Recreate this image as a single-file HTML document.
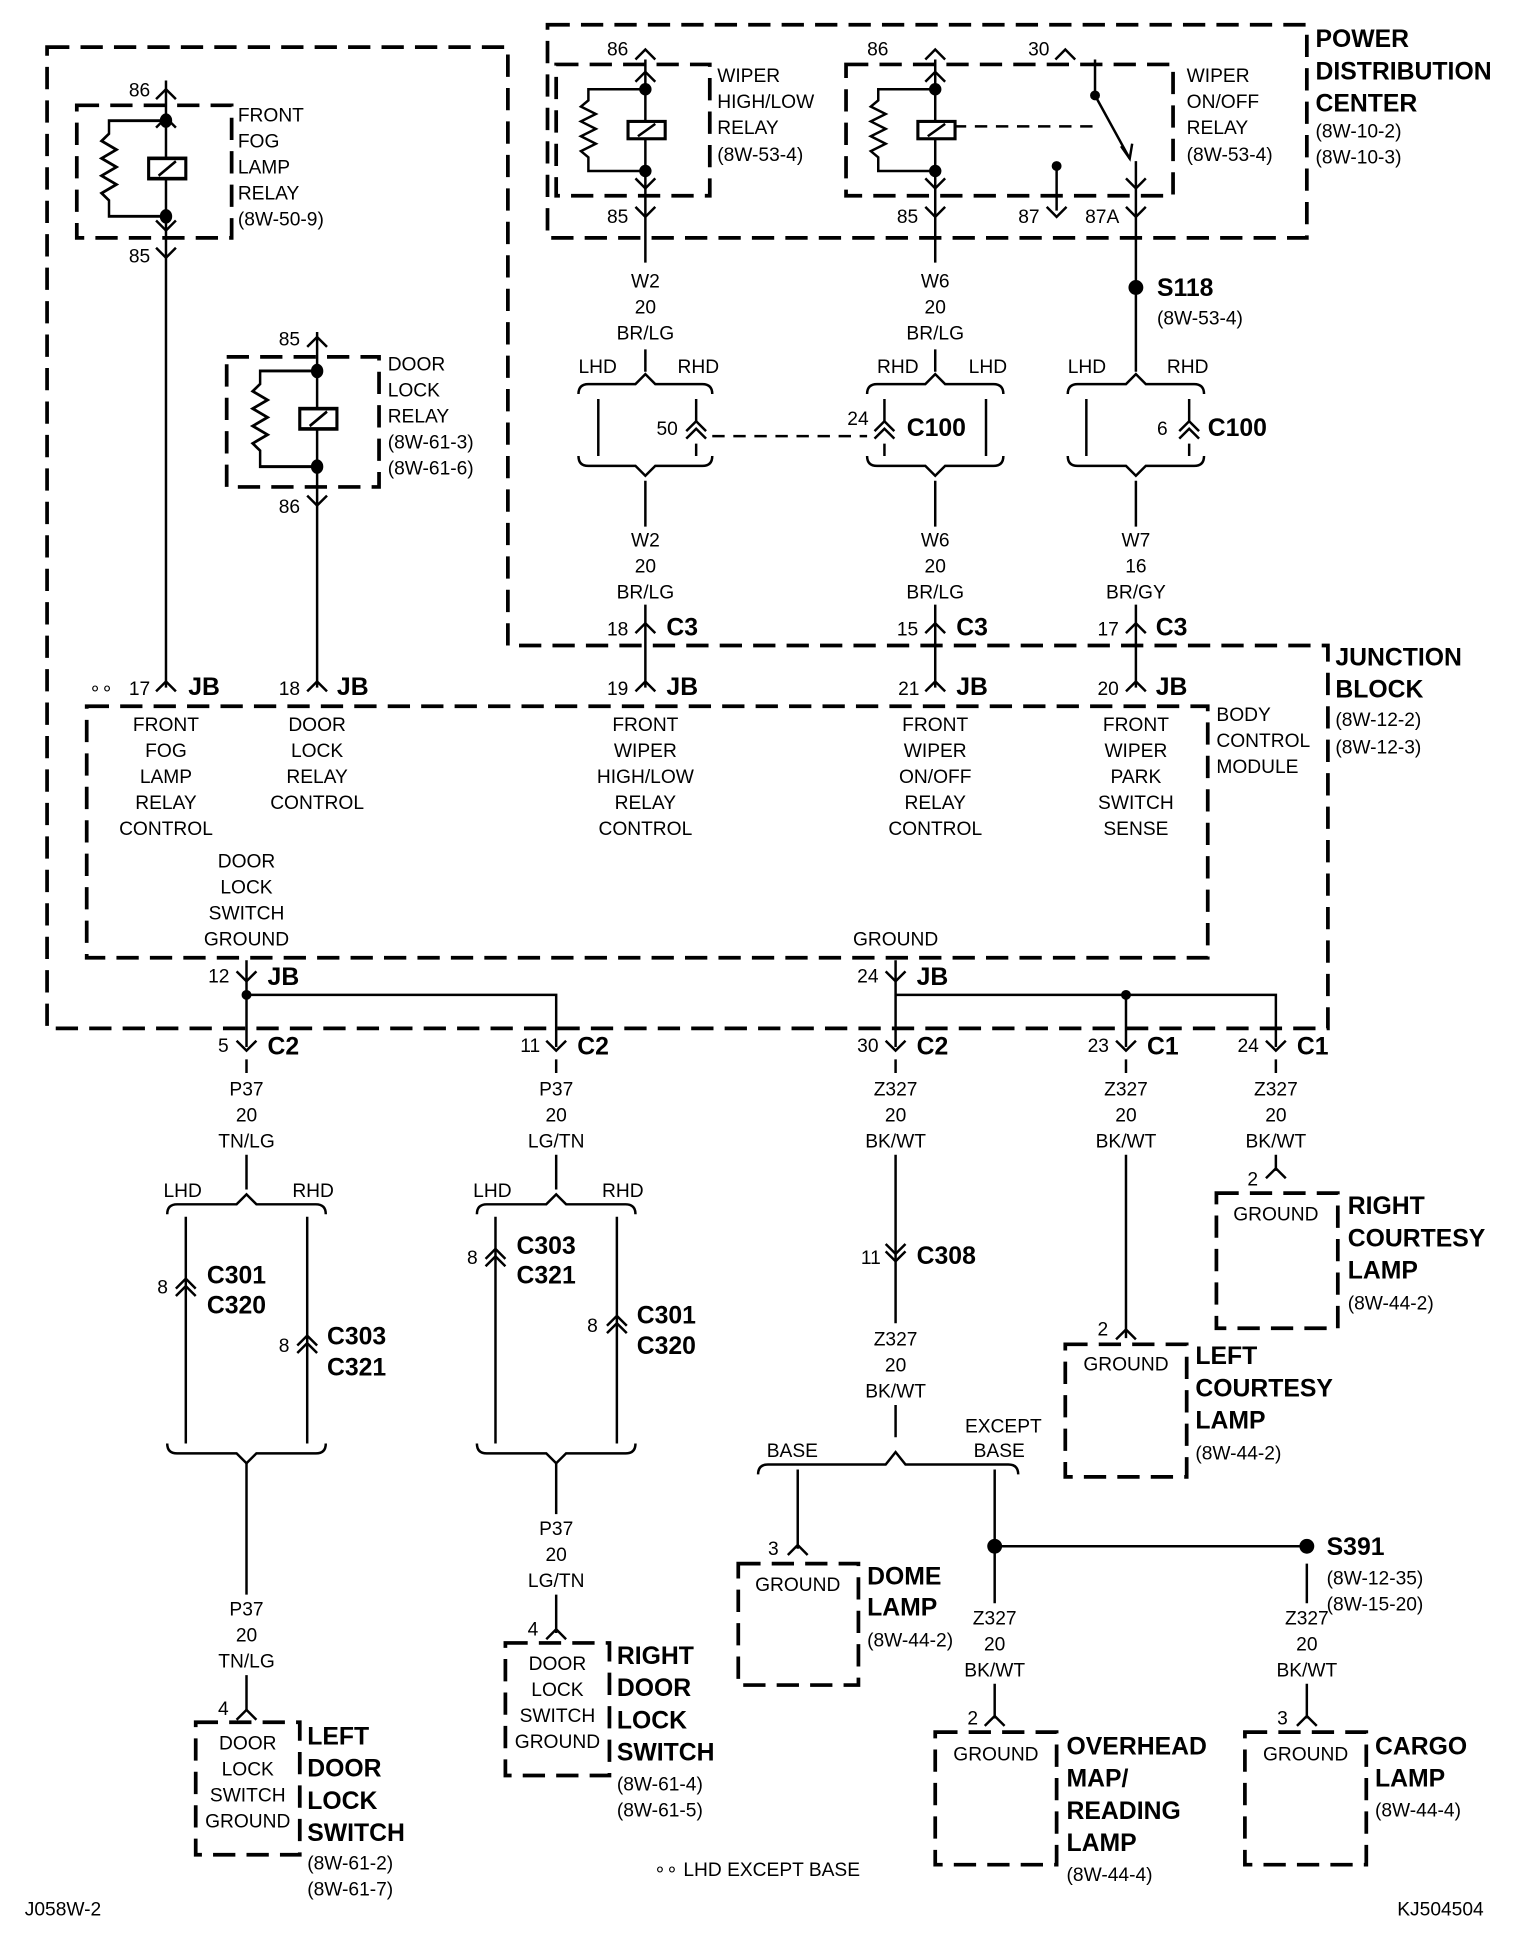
<!DOCTYPE html>
<html><head><meta charset="utf-8"><style>
html,body{margin:0;padding:0;background:#fff}
svg{display:block}
text{font-family:"Liberation Sans Narrow","Liberation Sans",sans-serif;font-size:15.5px;fill:#000}
.b{font-weight:bold;font-size:20px}
.c{text-anchor:middle}
</style></head><body>
<svg width="1536" height="1944" viewBox="0 0 1240 1569" preserveAspectRatio="none" xmlns="http://www.w3.org/2000/svg">
<defs>
<path id="v" d="M-8,-8 L0,0 L8,-8" fill="none" stroke="#000" stroke-width="2"/>
<path id="a" d="M-8,8 L0,0 L8,8" fill="none" stroke="#000" stroke-width="2"/>
<g id="aa"><path d="M-8,8 L0,0 L8,8 M-8,14 L0,6 L8,14" fill="none" stroke="#000" stroke-width="2"/></g>
<g id="vv"><path d="M-8,-8 L0,0 L8,-8 M-8,-2 L0,6 L8,-2" fill="none" stroke="#000" stroke-width="2"/></g>
<g id="relay" fill="none" stroke="#000" stroke-width="2">
<path d="M0,-33 L-46,-33 L-46,-24 L-52,-19 L-40,-13 L-52,-7 L-40,-1 L-52,5 L-40,11 L-52,17 L-46,22 L-46,33 L0,33 M0,-33 V33"/>
<rect x="-14" y="-7" width="30" height="14" fill="#fff" stroke-width="2.5"/>
<path d="M-6,5 L8,-5"/>
<circle cx="0" cy="-33" r="4" fill="#000"/><circle cx="0" cy="33" r="4" fill="#000"/>
</g>
</defs>
<g fill="none" stroke="#000" stroke-width="3" stroke-dasharray="18,9">
<rect x="442" y="20" width="613" height="172"/>
<path d="M38,38 L410,38 L410,521 L1072,521 L1072,830 L38,830 Z"/>
<rect x="70" y="570" width="905" height="203"/>
<rect x="62" y="85" width="125" height="107"/>
<rect x="183" y="288" width="123" height="105"/>
<rect x="449" y="52" width="124" height="106"/>
<rect x="683" y="52" width="264" height="106"/>
<rect x="158" y="1390" width="84" height="107"/>
<rect x="408" y="1326" width="84" height="107"/>
<rect x="596" y="1262" width="97" height="98"/>
<rect x="755" y="1398" width="98" height="107"/>
<rect x="1005" y="1398" width="98" height="107"/>
<rect x="860" y="1085" width="98" height="107"/>
<rect x="982" y="963" width="98" height="109"/>
</g>
<g fill="none" stroke="#000" stroke-width="2">
<path d="M134,65 V95 M134,178 V555 M256,268 V300 M256,377 V555"/>
<path d="M521,48 V72 M521,138 V212 M521,282 V300 M755,48 V72 M755,138 V212 M755,282 V300 M917,130 V300"/>
<path d="M521,388 V425 M521,488 V555 M755,388 V425 M755,488 V555 M917,388 V425 M917,488 V555"/>
<path d="M884,48 V77 L912,128 M853,134 V170"/>
<path d="M199,775 V845 M199,803 H449 V845 M723,775 V845 M723,803 H1030 V845 M909,803 V845"/>
<path d="M199,855 V866 M199,932 V960 M449,855 V866 M449,932 V960 M723,855 V866 M723,932 V1068 M723,1134 V1160 M909,855 V866 M909,932 V1080 M1030,855 V866 M1030,932 V945"/>
<path d="M467,318 Q467,310 475,310 L513,310 L521,302 L529,310 L567,310 Q575,310 575,318"/>
<path d="M467,368 Q467,376 475,376 L513,376 L521,384 L529,376 L567,376 Q575,376 575,368"/>
<path d="M483,322 V368 M562,322 V340 M562,358 V368"/>
<path d="M700,318 Q700,310 708,310 L747,310 L755,302 L763,310 L802,310 Q810,310 810,318"/>
<path d="M700,368 Q700,376 708,376 L747,376 L755,384 L763,376 L802,376 Q810,376 810,368"/>
<path d="M714,322 V340 M714,358 V368 M796,322 V368"/>
<path d="M862,318 Q862,310 870,310 L909,310 L917,302 L925,310 L964,310 Q972,310 972,318"/>
<path d="M862,368 Q862,376 870,376 L909,376 L917,384 L925,376 L964,376 Q972,376 972,368"/>
<path d="M877,322 V368 M960,322 V340 M960,358 V368"/>
<path d="M135,980 Q135,972 143,972 L191,972 L199,964 L207,972 L255,972 Q263,972 263,980"/>
<path d="M150,982 V1165 M248,982 V1165"/>
<path d="M135,1165 Q135,1173 143,1173 L191,1173 L199,1181 L207,1173 L255,1173 Q263,1173 263,1165"/>
<path d="M199,1181 V1287 M199,1352 V1380"/>
<path d="M385,980 Q385,972 393,972 L441,972 L449,964 L457,972 L505,972 Q513,972 513,980"/>
<path d="M400,982 V1165 M498,982 V1165"/>
<path d="M385,1165 Q385,1173 393,1173 L441,1173 L449,1181 L457,1173 L505,1173 Q513,1173 513,1165"/>
<path d="M449,1181 V1222 M449,1287 V1318"/>
<path d="M612,1190 Q612,1182 620,1182 L715,1182 L723,1172 L731,1182 L814,1182 Q822,1182 822,1190"/>
<path d="M644,1186 V1250 M803,1186 V1294 M803,1359 V1387 M803,1248 H1055 M1055,1262 V1294 M1055,1359 V1387"/>
</g>
<path d="M575,352 H700" stroke="#000" stroke-width="2" stroke-dasharray="10,7"/>
<path d="M770,102 H884" stroke="#000" stroke-width="2" stroke-dasharray="10,7"/>
<use href="#relay" transform="translate(134,136) scale(1,1.17)"/>
<use href="#relay" transform="translate(256,338) scale(1,1.17)"/>
<use href="#relay" x="521" y="105"/>
<use href="#relay" x="755" y="105"/>
<g fill="#000">
<circle cx="884" cy="77" r="4"/><circle cx="853" cy="134" r="4"/>
<circle cx="917" cy="232" r="6"/><circle cx="199" cy="803" r="4"/><circle cx="909" cy="803" r="4"/>
<circle cx="803" cy="1248" r="6"/><circle cx="1055" cy="1248" r="6"/>
</g>
<path d="M905,118 L912,128 L914,116" fill="none" stroke="#000" stroke-width="2"/>
<use href="#a" x="521" y="40"/><use href="#a" x="755" y="40"/><use href="#a" x="860" y="40"/>
<use href="#a" x="521" y="58"/><use href="#a" x="755" y="58"/>
<use href="#v" x="521" y="152"/><use href="#v" x="755" y="152"/>
<use href="#v" x="521" y="175"/><use href="#v" x="755" y="175"/><use href="#v" x="853" y="175"/><use href="#v" x="917" y="175"/>
<use href="#v" x="917" y="152"/>
<use href="#a" x="134" y="72"/><use href="#v" x="134" y="208"/><use href="#v" x="134" y="186"/><use href="#a" x="134" y="95"/>
<use href="#a" x="256" y="272"/><use href="#v" x="256" y="408"/>
<use href="#aa" x="562" y="340"/><use href="#aa" x="714" y="340"/><use href="#aa" x="960" y="340"/>
<use href="#a" x="521" y="503"/><use href="#a" x="755" y="503"/><use href="#a" x="917" y="503"/>
<use href="#a" x="134" y="550"/><use href="#a" x="256" y="550"/><use href="#a" x="521" y="550"/><use href="#a" x="755" y="550"/><use href="#a" x="917" y="550"/>
<use href="#v" x="199" y="792"/><use href="#v" x="723" y="792"/>
<use href="#v" x="199" y="848"/><use href="#v" x="449" y="848"/><use href="#v" x="723" y="848"/><use href="#v" x="909" y="848"/><use href="#v" x="1030" y="848"/>
<use href="#aa" x="150" y="1032"/><use href="#aa" x="248" y="1078"/><use href="#aa" x="400" y="1008"/><use href="#aa" x="498" y="1062"/>
<use href="#vv" x="723" y="1012"/>
<use href="#a" x="199" y="1380"/><use href="#a" x="449" y="1315"/><use href="#a" x="644" y="1247"/><use href="#a" x="803" y="1385"/><use href="#a" x="1055" y="1385"/><use href="#a" x="909" y="1073"/><use href="#a" x="1030" y="943"/>
<text x="490" y="45">86</text><text x="700" y="45">86</text><text x="830" y="45">30</text>
<text x="490" y="180">85</text><text x="724" y="180">85</text><text x="822" y="180">87</text><text x="876" y="180">87A</text>
<text x="579" y="66">WIPER</text><text x="579" y="87">HIGH/LOW</text><text x="579" y="108">RELAY</text><text x="579" y="130">(8W-53-4)</text>
<text x="958" y="66">WIPER</text><text x="958" y="87">ON/OFF</text><text x="958" y="108">RELAY</text><text x="958" y="130">(8W-53-4)</text>
<text class="b" x="1062" y="38">POWER</text><text class="b" x="1062" y="64">DISTRIBUTION</text><text class="b" x="1062" y="90">CENTER</text>
<text x="1062" y="111">(8W-10-2)</text><text x="1062" y="132">(8W-10-3)</text>
<text x="104" y="78">86</text><text x="104" y="212">85</text>
<text x="192" y="98">FRONT</text><text x="192" y="119">FOG</text><text x="192" y="140">LAMP</text><text x="192" y="161">RELAY</text><text x="192" y="182">(8W-50-9)</text>
<text x="225" y="279">85</text><text x="225" y="414">86</text>
<text x="313" y="299">DOOR</text><text x="313" y="320">LOCK</text><text x="313" y="341">RELAY</text><text x="313" y="362">(8W-61-3)</text><text x="313" y="383">(8W-61-6)</text>
<text x="521" y="232" class="c">W2</text><text x="521" y="253" class="c">20</text><text x="521" y="274" class="c">BR/LG</text>
<text x="755" y="232" class="c">W6</text><text x="755" y="253" class="c">20</text><text x="755" y="274" class="c">BR/LG</text>
<text x="521" y="441" class="c">W2</text><text x="521" y="462" class="c">20</text><text x="521" y="483" class="c">BR/LG</text>
<text x="755" y="441" class="c">W6</text><text x="755" y="462" class="c">20</text><text x="755" y="483" class="c">BR/LG</text>
<text x="917" y="441" class="c">W7</text><text x="917" y="462" class="c">16</text><text x="917" y="483" class="c">BR/GY</text>
<text class="b" x="934" y="239">S118</text><text x="934" y="262">(8W-53-4)</text>
<text x="467" y="301">LHD</text><text x="547" y="301">RHD</text><text x="708" y="301">RHD</text><text x="782" y="301">LHD</text><text x="862" y="301">LHD</text><text x="942" y="301">RHD</text>
<text x="530" y="351">50</text><text x="684" y="343">24</text><text class="b" x="732" y="352">C100</text><text x="934" y="351">6</text><text class="b" x="975" y="352">C100</text>
<text x="490" y="513">18</text><text class="b" x="538" y="513">C3</text><text x="724" y="513">15</text><text class="b" x="772" y="513">C3</text><text x="886" y="513">17</text><text class="b" x="933" y="513">C3</text>
<text x="72" y="561">∘∘</text><text x="104" y="561">17</text><text class="b" x="152" y="561">JB</text>
<text x="225" y="561">18</text><text class="b" x="272" y="561">JB</text>
<text x="490" y="561">19</text><text class="b" x="538" y="561">JB</text>
<text x="725" y="561">21</text><text class="b" x="772" y="561">JB</text>
<text x="886" y="561">20</text><text class="b" x="933" y="561">JB</text>
<text class="b" x="1078" y="537">JUNCTION</text><text class="b" x="1078" y="563">BLOCK</text>
<text x="1078" y="586">(8W-12-2)</text><text x="1078" y="608">(8W-12-3)</text>
<text x="982" y="582">BODY</text><text x="982" y="603">CONTROL</text><text x="982" y="624">MODULE</text>
<text class="c" x="134" y="590">FRONT</text><text class="c" x="134" y="611">FOG</text><text class="c" x="134" y="632">LAMP</text><text class="c" x="134" y="653">RELAY</text><text class="c" x="134" y="674">CONTROL</text>
<text class="c" x="256" y="590">DOOR</text><text class="c" x="256" y="611">LOCK</text><text class="c" x="256" y="632">RELAY</text><text class="c" x="256" y="653">CONTROL</text>
<text class="c" x="521" y="590">FRONT</text><text class="c" x="521" y="611">WIPER</text><text class="c" x="521" y="632">HIGH/LOW</text><text class="c" x="521" y="653">RELAY</text><text class="c" x="521" y="674">CONTROL</text>
<text class="c" x="755" y="590">FRONT</text><text class="c" x="755" y="611">WIPER</text><text class="c" x="755" y="632">ON/OFF</text><text class="c" x="755" y="653">RELAY</text><text class="c" x="755" y="674">CONTROL</text>
<text class="c" x="917" y="590">FRONT</text><text class="c" x="917" y="611">WIPER</text><text class="c" x="917" y="632">PARK</text><text class="c" x="917" y="653">SWITCH</text><text class="c" x="917" y="674">SENSE</text>
<text class="c" x="199" y="700">DOOR</text><text class="c" x="199" y="721">LOCK</text><text class="c" x="199" y="742">SWITCH</text><text class="c" x="199" y="763">GROUND</text>
<text class="c" x="723" y="763">GROUND</text>
<text x="168" y="793">12</text><text class="b" x="216" y="795">JB</text><text x="692" y="793">24</text><text class="b" x="740" y="795">JB</text>
<text x="176" y="849">5</text><text class="b" x="216" y="851">C2</text>
<text x="420" y="849">11</text><text class="b" x="466" y="851">C2</text>
<text x="692" y="849">30</text><text class="b" x="740" y="851">C2</text>
<text x="878" y="849">23</text><text class="b" x="926" y="851">C1</text>
<text x="999" y="849">24</text><text class="b" x="1047" y="851">C1</text>
<text class="c" x="199" y="884">P37</text><text class="c" x="199" y="905">20</text><text class="c" x="199" y="926">TN/LG</text>
<text class="c" x="449" y="884">P37</text><text class="c" x="449" y="905">20</text><text class="c" x="449" y="926">LG/TN</text>
<text class="c" x="723" y="884">Z327</text><text class="c" x="723" y="905">20</text><text class="c" x="723" y="926">BK/WT</text>
<text class="c" x="909" y="884">Z327</text><text class="c" x="909" y="905">20</text><text class="c" x="909" y="926">BK/WT</text>
<text class="c" x="1030" y="884">Z327</text><text class="c" x="1030" y="905">20</text><text class="c" x="1030" y="926">BK/WT</text>
<text x="132" y="966">LHD</text><text x="236" y="966">RHD</text><text x="382" y="966">LHD</text><text x="486" y="966">RHD</text>
<text x="127" y="1044">8</text><text class="b" x="167" y="1036">C301</text><text class="b" x="167" y="1060">C320</text>
<text x="225" y="1091">8</text><text class="b" x="264" y="1085">C303</text><text class="b" x="264" y="1110">C321</text>
<text x="377" y="1020">8</text><text class="b" x="417" y="1012">C303</text><text class="b" x="417" y="1036">C321</text>
<text x="474" y="1075">8</text><text class="b" x="514" y="1068">C301</text><text class="b" x="514" y="1093">C320</text>
<text x="695" y="1020">11</text><text class="b" x="740" y="1020">C308</text>
<text class="c" x="723" y="1086">Z327</text><text class="c" x="723" y="1107">20</text><text class="c" x="723" y="1128">BK/WT</text>
<text x="619" y="1176">BASE</text><text x="779" y="1156">EXCEPT</text><text x="786" y="1176">BASE</text>
<text class="c" x="199" y="1304">P37</text><text class="c" x="199" y="1325">20</text><text class="c" x="199" y="1346">TN/LG</text>
<text class="c" x="449" y="1239">P37</text><text class="c" x="449" y="1260">20</text><text class="c" x="449" y="1281">LG/TN</text>
<text x="176" y="1384">4</text><text x="426" y="1320">4</text>
<text class="c" x="200" y="1412">DOOR</text><text class="c" x="200" y="1433">LOCK</text><text class="c" x="200" y="1454">SWITCH</text><text class="c" x="200" y="1475">GROUND</text>
<text class="b" x="248" y="1408">LEFT</text><text class="b" x="248" y="1434">DOOR</text><text class="b" x="248" y="1460">LOCK</text><text class="b" x="248" y="1486">SWITCH</text>
<text x="248" y="1509">(8W-61-2)</text><text x="248" y="1530">(8W-61-7)</text>
<text class="c" x="450" y="1348">DOOR</text><text class="c" x="450" y="1369">LOCK</text><text class="c" x="450" y="1390">SWITCH</text><text class="c" x="450" y="1411">GROUND</text>
<text class="b" x="498" y="1343">RIGHT</text><text class="b" x="498" y="1369">DOOR</text><text class="b" x="498" y="1395">LOCK</text><text class="b" x="498" y="1421">SWITCH</text>
<text x="498" y="1445">(8W-61-4)</text><text x="498" y="1466">(8W-61-5)</text>
<text x="620" y="1255">3</text><text class="c" x="644" y="1284">GROUND</text>
<text class="b" x="700" y="1279">DOME</text><text class="b" x="700" y="1304">LAMP</text><text x="700" y="1329">(8W-44-2)</text>
<text class="b" x="1071" y="1255">S391</text><text x="1071" y="1279">(8W-12-35)</text><text x="1071" y="1300">(8W-15-20)</text>
<text class="c" x="803" y="1311">Z327</text><text class="c" x="803" y="1332">20</text><text class="c" x="803" y="1353">BK/WT</text>
<text class="c" x="1055" y="1311">Z327</text><text class="c" x="1055" y="1332">20</text><text class="c" x="1055" y="1353">BK/WT</text>
<text x="781" y="1392">2</text><text class="c" x="804" y="1421">GROUND</text>
<text class="b" x="861" y="1416">OVERHEAD</text><text class="b" x="861" y="1442">MAP/</text><text class="b" x="861" y="1468">READING</text><text class="b" x="861" y="1494">LAMP</text><text x="861" y="1518">(8W-44-4)</text>
<text x="1031" y="1392">3</text><text class="c" x="1054" y="1421">GROUND</text>
<text class="b" x="1110" y="1416">CARGO</text><text class="b" x="1110" y="1442">LAMP</text><text x="1110" y="1466">(8W-44-4)</text>
<text x="886" y="1078">2</text><text class="c" x="909" y="1106">GROUND</text>
<text class="b" x="965" y="1101">LEFT</text><text class="b" x="965" y="1127">COURTESY</text><text class="b" x="965" y="1153">LAMP</text><text x="965" y="1178">(8W-44-2)</text>
<text x="1007" y="957">2</text><text class="c" x="1030" y="985">GROUND</text>
<text class="b" x="1088" y="980">RIGHT</text><text class="b" x="1088" y="1006">COURTESY</text><text class="b" x="1088" y="1032">LAMP</text><text x="1088" y="1057">(8W-44-2)</text>
<text x="528" y="1514">∘∘ LHD EXCEPT BASE</text>
<text x="20" y="1546">J058W-2</text><text x="1128" y="1546">KJ504504</text>
</svg>
</body></html>
